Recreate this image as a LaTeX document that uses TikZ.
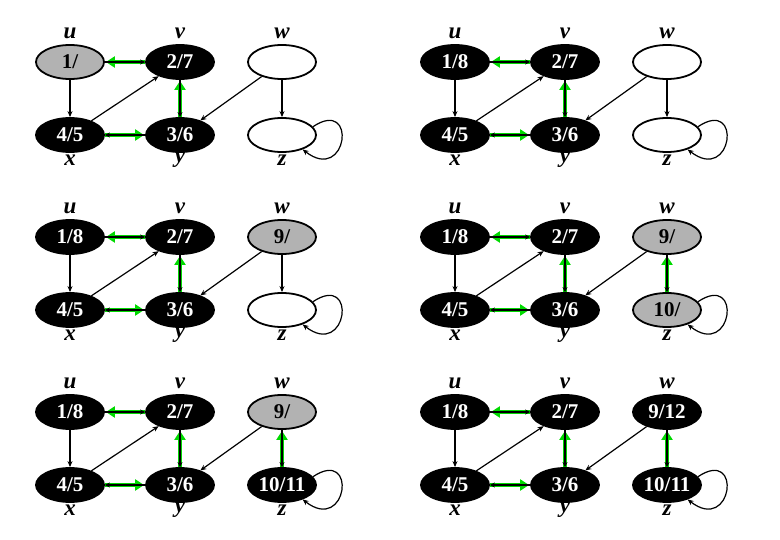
\documentclass[tikz,border=0pt]{standalone}
\usepackage{fontspec}
\setmainfont{Liberation Serif}
\usetikzlibrary{arrows.meta,shapes.geometric}
\tikzset{
 vtx/.style={ellipse,draw=black,line width=1.8pt,minimum width=68pt,minimum height=34pt,inner sep=0pt,font=\fontsize{21}{21}\selectfont\bfseries},
 blk/.style={vtx,fill=black,text=white},
 gry/.style={vtx,fill=gray!60,text=black},
 wht/.style={vtx,fill=white,text=black},
 lab/.style={font=\fontsize{23}{23}\selectfont\bfseries\itshape},
 edge/.style={draw=black,line width=1.2pt,-{Stealth[length=6pt,width=5pt]}},
 gedge/.style={draw=green!85!black,line width=3.5pt,-{Triangle[length=9pt,width=11pt]},shorten >=1pt},
 bedge/.style={draw=black,line width=1.4pt,-{Stealth[length=5pt,width=5pt]}}
}
% #1 prefix, #2 xshift, #3 yshift, #4 u style, #5 u text, #6 w style, #7 w text, #8 z style, #9 z text
\newcommand\dfspanel[9]{%
\begin{scope}[shift={(#2,#3)}]
 \node[#4] (#1u) at (70,-62) {#5};
 \node[blk] (#1v) at (180,-62) {2/7};
 \node[#6] (#1w) at (282,-62) {#7};
 \node[blk] (#1x) at (70,-135) {4/5};
 \node[blk] (#1y) at (180,-135) {3/6};
 \node[#8] (#1z) at (282,-135) {#9};
 \node[lab] (#1lu) at (70,-33) {u};
 \node[lab] (#1lv) at (180,-33) {v};
 \node[lab] (#1lw) at (282,-33) {w};
 \node[lab] (#1lx) at (70,-160) {x};
 \node[lab] (#1ly) at (180,-160) {y};
 \node[lab] (#1lz) at (282,-160) {z};
 \draw[gedge] (#1v) -- (#1u);
 \draw[bedge] (#1u) -- (#1v);
 \draw[gedge] (#1x) -- (#1y);
 \draw[bedge] (#1y) -- (#1x);
 \draw[gedge] (#1y) -- (#1v);
 \draw[bedge] (#1v) -- (#1y);
 \draw[edge] (#1u) -- (#1x);
 \draw[edge] (#1x) -- (#1v);
 \draw[edge] (#1w) -- (#1y);
 \draw[edge] (#1z.15) .. controls +(45,30) and +(45,-35) .. (#1z.-35);
\end{scope}}
\begin{document}
\begin{tikzpicture}[x=1pt,y=1pt]
\useasboundingbox (0,0) rectangle (780,-540);
\dfspanel{a}{0}{0}{gry}{1/}{wht}{}{wht}{}
\draw[edge] (aw) -- (az);
\dfspanel{b}{385}{0}{blk}{1/8}{wht}{}{wht}{}
\draw[edge] (bw) -- (bz);
\dfspanel{c}{0}{-175}{blk}{1/8}{gry}{9/}{wht}{}
\draw[edge] (cw) -- (cz);
\dfspanel{d}{385}{-175}{blk}{1/8}{gry}{9/}{gry}{10/}
\draw[gedge] (dz) -- (dw); \draw[bedge] (dw) -- (dz);
\dfspanel{e}{0}{-350}{blk}{1/8}{gry}{9/}{blk}{10/11}
\draw[gedge] (ez) -- (ew); \draw[bedge] (ew) -- (ez);
\dfspanel{f}{385}{-350}{blk}{1/8}{blk}{9/12}{blk}{10/11}
\draw[gedge] (fz) -- (fw); \draw[bedge] (fw) -- (fz);
\end{tikzpicture}
\end{document}
